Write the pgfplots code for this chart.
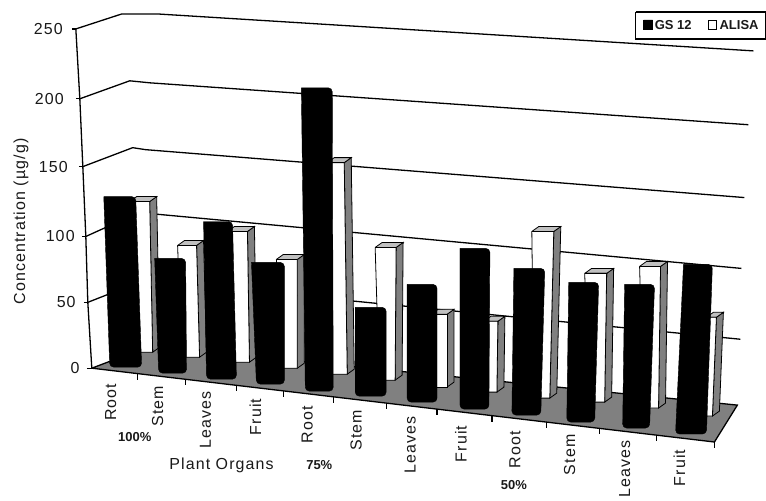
\documentclass[border=0pt]{standalone}
\usepackage{pgfplots}
\usepackage{fontspec}
\setmainfont{Liberation Sans}
\newfontfamily\lblfont[LetterSpace=7]{Liberation Sans}
\pgfplotsset{compat=1.18}
\definecolor{sidegray}{RGB}{128,128,128}
\definecolor{topgray}{RGB}{192,192,192}
\definecolor{textgray}{RGB}{25,25,25}

% all positions are picture pixels: x to the right, y downwards
\newcommand{\blackbar}[6]{%
  \addplot[fill=black,draw=black,rounded corners=4pt] coordinates {(#1,#3) (#2,#3) (#5,#6) (#4,#6) (#1,#3)};}
\newcommand{\whitebar}[6]{%
  \addplot[fill=sidegray,draw=black,line width=0.8pt] coordinates {(#2,#3) (#2+7,#3-5) (#5+7,#6-5) (#5,#6) (#2,#3)};
  \addplot[fill=topgray,draw=black,line width=0.8pt] coordinates {(#1,#3) (#1+7,#3-5) (#2+7,#3-5) (#2,#3) (#1,#3)};
  \addplot[fill=white,draw=black,line width=0.8pt] coordinates {(#1,#3) (#2,#3) (#5,#6) (#4,#6) (#1,#3)};}
\newcommand{\organ}[3]{\node[rotate=90,font=\fontsize{16}{16}\lblfont,textgray] at (axis cs:#1,#2) {#3};}
\newcommand{\ylab}[3]{\node[anchor=east,inner sep=0pt,font=\fontsize{16}{16}\lblfont,textgray] at (axis cs:#1,#2) {#3};}
\newcommand{\share}[3]{\node[inner sep=0pt,font=\fontsize{13}{13}\selectfont\bfseries,textgray] at (axis cs:#1,#2) {#3};}

\begin{document}
\begin{tikzpicture}
\begin{axis}[
    scale only axis,
    width=766pt,
    height=492pt,
    xmin=0, xmax=766,
    ymin=0, ymax=492,
    y dir=reverse,
    hide axis,
    clip=false
]
% gridlines on the back wall
\addplot[black,line width=1.3pt] coordinates {(76,29) (122,14) (158,14) (755,51)};
\addplot[black,line width=1.3pt] coordinates {(80,99) (130,81) (150,83) (750,125)};
\addplot[black,line width=1.3pt] coordinates {(83,167) (133,148) (146,150) (746,198)};
\addplot[black,line width=1.3pt] coordinates {(86,237) (139,213) (743,269)};
\addplot[black,line width=1.3pt] coordinates {(88,303) (144,281) (742,340)};
% value axis and its ticks
\addplot[black,line width=1.3pt] coordinates {(76,29) (80,99) (83,167) (86,237) (88,303) (92,369)};
\addplot[black,line width=1.3pt] coordinates {(72,29) (76,29)};
\addplot[black,line width=1.3pt] coordinates {(76,99) (80,99)};
\addplot[black,line width=1.3pt] coordinates {(79,167) (83,167)};
\addplot[black,line width=1.3pt] coordinates {(82,237) (86,237)};
\addplot[black,line width=1.3pt] coordinates {(84,303) (88,303)};
\addplot[black,line width=1.3pt] coordinates {(87,369) (92,369)};
% floor
\addplot[fill=sidegray,draw=black,line width=1.3pt] coordinates {(92,369) (150,347) (739,406) (716,443) (92,369)};
% category ticks
\addplot[black,line width=1.3pt] coordinates {(138,375) (138,381)};
\addplot[black,line width=1.3pt] coordinates {(186,380) (186,386)};
\addplot[black,line width=1.3pt] coordinates {(237,386) (237,392)};
\addplot[black,line width=1.3pt] coordinates {(284,392) (284,398)};
\addplot[black,line width=1.3pt] coordinates {(334,398) (334,404)};
\addplot[black,line width=1.3pt] coordinates {(387,404) (387,410)};
\addplot[black,line width=1.3pt] coordinates {(438,410) (438,416)};
\addplot[black,line width=1.3pt] coordinates {(493,417) (493,423)};
\addplot[black,line width=1.3pt] coordinates {(548,423) (548,429)};
\addplot[black,line width=1.3pt] coordinates {(601,429) (601,435)};
\addplot[black,line width=1.3pt] coordinates {(658,436) (658,442)};
\addplot[black,line width=1.3pt] coordinates {(716,443) (716,449)};
% ALISA bars: top left x, top right x, top y, bottom left x, bottom right x, bottom y
\whitebar{130}{150}{202}{136}{153}{353}
\whitebar{178}{197}{246}{182}{200}{358}
\whitebar{228}{248}{232}{232}{250}{363}
\whitebar{277}{298}{260}{280}{298}{369}
\whitebar{328}{345}{163}{330}{348}{375}
\whitebar{376}{397}{248}{380}{396}{381}
\whitebar{432}{448}{315}{432}{448}{388}
\whitebar{485}{499}{322}{485}{498}{393}
\whitebar{533}{555}{232}{535}{551}{399}
\whitebar{586}{608}{274}{590}{606}{403}
\whitebar{641}{662}{267}{645}{660}{409}
\whitebar{708}{718}{318}{705}{714}{417}
% GS 12 bars
\blackbar{104}{136}{197}{110}{142}{368}
\blackbar{155}{186}{259}{159}{187}{374}
\blackbar{204}{233}{222}{207}{237}{380}
\blackbar{252}{285}{263}{257}{285}{385}
\blackbar{302}{333}{88}{306}{334}{392}
\blackbar{356}{387}{308}{356}{387}{397}
\blackbar{408}{438}{285}{408}{438}{403}
\blackbar{461}{491}{249}{461}{490}{410}
\blackbar{515}{546}{269}{513}{542}{416}
\blackbar{570}{600}{283}{568}{596}{423}
\blackbar{626}{656}{285}{624}{651}{429}
\blackbar{685}{714}{265}{677}{708}{435}
% value labels
\ylab{63}{29}{250}
\ylab{64}{99}{200}
\ylab{68}{167}{150}
\ylab{75}{237}{100}
\ylab{76}{303}{50}
\ylab{80}{369}{0}
\node[rotate=90,font=\fontsize{16}{16}\lblfont,textgray] at (axis cs:21,222) {Concentration (µg/g)};
% organ labels
\organ{111}{403}{Root}
\organ{158}{407}{Stem}
\organ{206}{421}{Leaves}
\organ{256}{418}{Fruit}
\organ{308}{426}{Root}
\organ{357}{431}{Stem}
\organ{411}{446}{Leaves}
\organ{462}{445}{Fruit}
\organ{516}{451}{Root}
\organ{571}{456}{Stem}
\organ{626}{470}{Leaves}
\organ{681}{469}{Fruit}
\share{135}{438}{100\%}
\share{320}{466}{75\%}
\share{515}{486}{50\%}
\node[font=\fontsize{16}{16}\lblfont,textgray] at (axis cs:222,466) {Plant Organs};
% legend
\addplot[fill=white,draw=black,line width=1.4pt] coordinates {(637,12) (767,12) (767,39) (637,39) (637,12)};
\addplot[fill=black,draw=black] coordinates {(645,20) (654,20) (654,29) (645,29) (645,20)};
\addplot[fill=white,draw=black,line width=0.8pt] coordinates {(710,20) (718,20) (718,29) (710,29) (710,20)};
\node[anchor=west,inner sep=0pt,font=\fontsize{13}{13}\selectfont\bfseries,textgray] at (axis cs:656,25) {GS 12};
\node[anchor=west,inner sep=0pt,font=\fontsize{13}{13}\selectfont\bfseries,textgray] at (axis cs:721,25) {ALISA};
% page is exactly the 766x492 pixel frame
\path[use as bounding box] (axis cs:0,0) rectangle (axis cs:766,492);
\end{axis}
\end{tikzpicture}
\end{document}
